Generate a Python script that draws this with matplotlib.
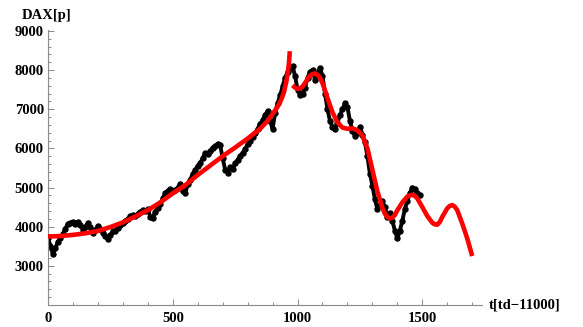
import matplotlib
matplotlib.use("Agg")
import matplotlib.pyplot as plt
from matplotlib.font_manager import FontProperties
from matplotlib.ticker import MultipleLocator

# DAX closing values, t in trading days - 11000
dax_t = list(range(0, 1500, 10))
dax_p = [3700, 3500, 3300, 3450, 3620, 3700, 3820, 3950, 4080, 4100,
         4120, 4080, 4120, 4050, 3920, 4000, 4100, 3980, 3850, 3920,
         4020, 3950, 3840, 3750, 3680, 3780, 3880, 3900, 3960, 4030,
         4100, 4150, 4200, 4260, 4300, 4280, 4330, 4380, 4420, 4400,
         4450, 4250, 4230, 4380, 4480, 4580, 4720, 4850, 4920, 4960,
         4900, 4930, 5000, 5100, 4900, 4850, 5080, 5200, 5350, 5450,
         5550, 5620, 5750, 5880, 5850, 5920, 6020, 6050, 6120, 6080,
         5750, 5450, 5380, 5520, 5480, 5620, 5700, 5800, 5880, 5980,
         6100, 6200, 6300, 6380, 6500, 6620, 6720, 6850, 6950, 6700,
         6500, 6900, 7150, 7350, 7580, 7800, 7950, 8050, 8100, 7850,
         7500, 7350, 7400, 7550, 7800, 7950, 8000, 7750, 7900, 8050,
         7850, 7400, 7000, 6700, 6550, 6500, 6650, 6850, 7000, 7150,
         7050, 6700, 6450, 6320, 6400, 6550, 6350, 6150, 5800, 5350,
         5050, 4700, 4450, 4550, 4650, 4500, 4250, 4350, 4150, 3900,
         3700, 3900, 4150, 4450, 4650, 4850, 5000, 4950, 4850, 4800]

# fit before the crash (bubble)
fit1_t = [0, 50, 100, 150, 200, 250, 300, 350, 400, 450, 500, 550, 600,
          650, 700, 750, 800, 850, 880, 900, 920, 935, 945, 955, 962, 966, 969]
fit1_p = [3750, 3760, 3790, 3830, 3890, 3990, 4110, 4260, 4420, 4620, 4850,
          5060, 5320, 5560, 5800, 6020, 6250, 6500, 6700, 6880, 7060, 7250,
          7420, 7700, 7980, 8200, 8480]

# fit after the crash (anti-bubble)
fit2_t = [980, 990, 1000, 1010, 1020, 1030, 1040, 1050, 1060, 1070, 1080,
          1090, 1100, 1110, 1120, 1140, 1160, 1180, 1200, 1220, 1240, 1260,
          1280, 1300, 1320, 1340, 1350, 1360, 1370, 1380, 1390, 1400, 1420,
          1440, 1450, 1460, 1470, 1480, 1500, 1520, 1540, 1550, 1560, 1570,
          1580, 1600, 1610, 1620, 1630, 1640, 1660, 1680, 1700]
fit2_p = [7610, 7550, 7520, 7530, 7580, 7670, 7770, 7850, 7900, 7910, 7880,
          7800, 7660, 7480, 7280, 6920, 6660, 6530, 6500, 6510, 6460, 6330,
          6000, 5450, 4900, 4480, 4330, 4250, 4210, 4230, 4300, 4420, 4620,
          4770, 4800, 4810, 4790, 4720, 4500, 4270, 4100, 4060, 4050, 4120,
          4250, 4470, 4530, 4550, 4510, 4420, 4080, 3700, 3250]

fig = plt.figure(figsize=(5.83, 3.27), dpi=100)
ax = fig.add_axes([0.0823, 0.0673, 0.7444, 0.841])

ax.plot(dax_t, dax_p, color="black", lw=2.8, marker="o", ms=3.6, zorder=2)
ax.plot(fit1_t, fit1_p, color="#ff0000", lw=3.3, solid_capstyle="butt",
        solid_joinstyle="round", zorder=3)
ax.plot(fit2_t, fit2_p, color="#ff0000", lw=3.3, solid_capstyle="butt",
        solid_joinstyle="round", zorder=3)

ax.set_xlim(0, 1739)
ax.set_ylim(2000, 9022)

for s in ["top", "right"]:
    ax.spines[s].set_visible(False)
for s in ["left", "bottom"]:
    ax.spines[s].set_color("#8a8a8a")
    ax.spines[s].set_linewidth(0.8)

ax.xaxis.set_major_locator(MultipleLocator(500))
ax.xaxis.set_minor_locator(MultipleLocator(100))
ax.yaxis.set_minor_locator(MultipleLocator(200))
ax.set_yticks([3000, 4000, 5000, 6000, 7000, 8000, 9000])

ax.tick_params(which="both", direction="in", color="#8a8a8a", width=0.7)
ax.tick_params(which="major", length=4.5)
ax.tick_params(which="minor", length=2.5)
ax.tick_params(axis="x", pad=5)
ax.tick_params(axis="y", pad=3)

fnt = dict(family="Liberation Serif", weight="bold", size=10.5)
for lab in ax.get_xticklabels() + ax.get_yticklabels():
    lab.set_fontproperties(FontProperties(**fnt))

fig.text(0.038, 0.952, "DAX[p]", ha="left", va="center", **fnt)
fig.text(0.838, 0.067, "t[td\u221211000]", ha="left", va="center", **fnt)

fig.savefig("out.png", dpi=100)
